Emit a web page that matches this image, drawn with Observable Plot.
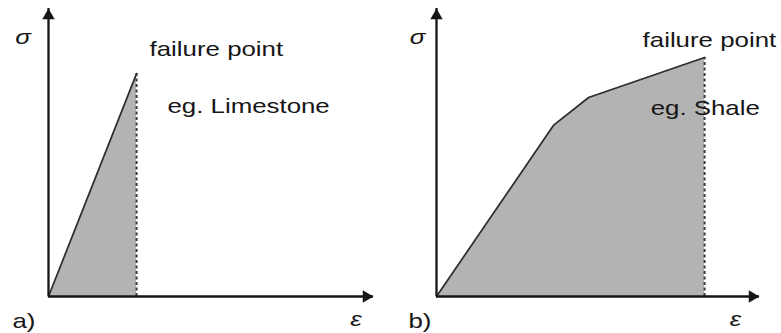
<!DOCTYPE html>
<html>
<head>
<meta charset="utf-8">
<script src="https://cdn.jsdelivr.net/npm/d3@7"></script>
<script src="https://cdn.jsdelivr.net/npm/@observablehq/plot@0.6"></script>
<style>
  body { margin: 0; background: #fff; }
  #fig { display: flex; width: 781px; height: 333px; }
  #fig svg { display: block; }
</style>
</head>
<body>
<div id="fig"></div>
<script>
// Stress–strain curves (arbitrary units) for two rock types.
// Brittle rock: linear elastic right up to failure.
const brittleStrain = [0, 2.71];
const brittleStress = [0, 7.74];
// Ductile rock: stiffness drops before failure.
const ductileStrain = [0, 3.62, 4.71, 8.30];
const ductileStress = [0, 5.94, 6.91, 8.30];

const panelTags = ["a)", "b)"];
const rockLabels = ["eg. Limestone", "eg. Shale"];
const failureLabel = "failure point";
const stressSymbol = "σ";
const strainSymbol = "ε";

const FONT = "'Liberation Sans', Arial, Helvetica, sans-serif";
const INK = "#161616";
const FS = 21;

function panel({strain, stress, tag, rock, rockAt, failDx, failDy, width, marginLeft, marginRight, sigmaDx, epsDx, tagDx}) {
  const pts = strain.map((x, i) => ({x, y: stress[i]}));
  const fail = pts[pts.length - 1];
  return Plot.plot({
    width, height: 333,
    marginLeft, marginRight, marginTop: 8, marginBottom: 37,
    x: {domain: [0, 10], axis: null},
    y: {domain: [0, 10], axis: null},
    style: {fontFamily: FONT, background: "#fff"},
    marks: [
      // strain energy up to failure
      Plot.areaY(pts, {x: "x", y: "y", fill: "#b3b3b3"}),
      Plot.ruleX([fail], {x: "x", y1: 0, y2: "y", stroke: "#3c3c3c", strokeWidth: 2, strokeDasharray: "3,2.5"}),
      Plot.line(pts, {x: "x", y: "y", stroke: "#2e2e2e", strokeWidth: 1.7}),
      // axes with arrowheads
      Plot.ruleX([0], {stroke: INK, strokeWidth: 2.3}),
      Plot.ruleY([0], {stroke: INK, strokeWidth: 2.3}),
      Plot.dot([0], {frameAnchor: "top-left", symbol: "triangle", r: 4.6, fill: INK, stroke: null, dy: 7.2}),
      Plot.dot([0], {frameAnchor: "bottom-right", symbol: "triangle", r: 4.6, fill: INK, stroke: null, rotate: 90, dx: -7.2}),
      // labels
      Plot.text([stressSymbol], {frameAnchor: "top-left", text: d => d, dx: sigmaDx, dy: 28.3, fontSize: FS, fontStyle: "italic", textAnchor: "middle", lineAnchor: "middle", fill: INK}),
      Plot.text([strainSymbol], {frameAnchor: "bottom-right", text: d => d, dx: epsDx, dy: 22.8, fontSize: FS, fontStyle: "italic", textAnchor: "middle", lineAnchor: "middle", fill: INK}),
      Plot.text([tag], {frameAnchor: "bottom-left", text: d => d, dx: tagDx, dy: 25, fontSize: FS, textAnchor: "start", lineAnchor: "middle", fill: INK}),
      Plot.text([fail], {x: "x", y: "y", text: () => failureLabel, dx: failDx, dy: failDy, fontSize: FS, textAnchor: "start", lineAnchor: "middle", fill: INK}),
      Plot.text([rock], {x: rockAt[0], y: rockAt[1], text: d => d, fontSize: FS, textAnchor: "start", lineAnchor: "middle", fill: INK})
    ]
  });
}

const fig = document.getElementById("fig");
const a = panel({
  strain: brittleStrain, stress: brittleStress, tag: panelTags[0], rock: rockLabels[0],
  rockAt: [3.66, 6.59], failDx: 13, failDy: -24.7,
  width: 390, marginLeft: 48, marginRight: 17, sigmaDx: -25.5, epsDx: -17.5, tagDx: -36
});
const b = panel({
  strain: ductileStrain, stress: ductileStress, tag: panelTags[1], rock: rockLabels[1],
  rockAt: [6.63, 6.52], failDx: -62, failDy: -16.7,
  width: 391, marginLeft: 46, marginRight: 22, sigmaDx: -19, epsDx: -24, tagDx: -28
});
fig.append(a, b);

// the lettering is set wide: stretch each label horizontally
for (const t of fig.querySelectorAll("text")) {
  const w = t.getComputedTextLength();
  if (w > 0) {
    t.setAttribute("textLength", (w * 1.23).toFixed(1));
    t.setAttribute("lengthAdjust", "spacingAndGlyphs");
  }
}
</script>
</body>
</html>
